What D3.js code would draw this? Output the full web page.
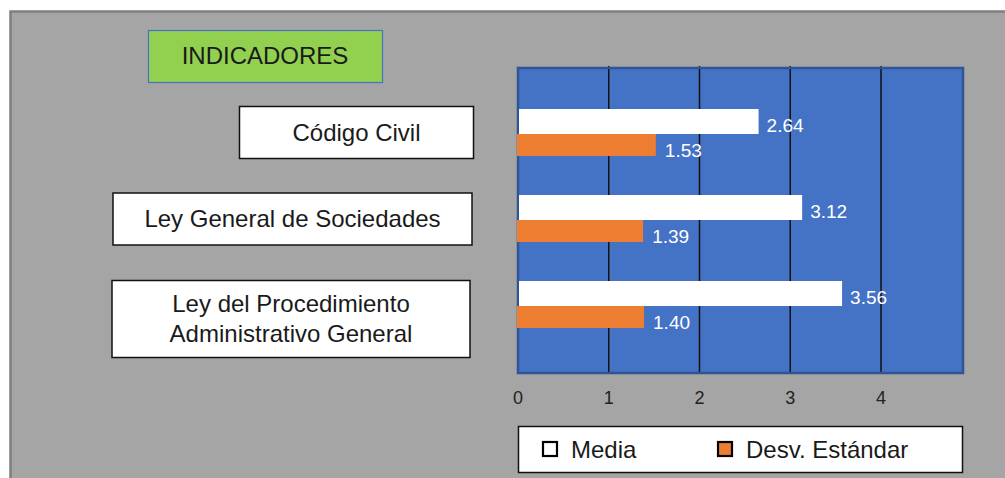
<!DOCTYPE html>
<html>
<head>
<meta charset="utf-8">
<script src="https://cdn.jsdelivr.net/npm/d3@7"></script>
<style>
  html, body { margin: 0; padding: 0; background: #fff; }
  svg { display: block; font-family: "Liberation Sans", Arial, sans-serif; }
</style>
</head>
<body>
<svg id="chart" width="1005" height="478"></svg>
<script>
var categories = ["Código Civil", "Ley General de Sociedades", "Ley del Procedimiento Administrativo General"];
var categoryLines = [["Código Civil"], ["Ley General de Sociedades"], ["Ley del Procedimiento", "Administrativo General"]];
var media = [2.64, 3.12, 3.56];
var desv = [1.53, 1.39, 1.40];
var series = ["Media", "Desv. Estándar"];
var xTicks = [0, 1, 2, 3, 4];
var title = "INDICADORES";

var COLORS = { media: "#ffffff", desv: "#ed7d31", plot: "#4472c4", frame: "#a5a5a5" };

var plot = { left: 518, right: 963, top: 68, bottom: 373 };

var svg = d3.select("#chart");

// gray frame
svg.append("rect")
  .attr("x", 10.5).attr("y", 11.5)
  .attr("width", 1010).attr("height", 480)
  .style("fill", COLORS.frame)
  .style("stroke", "#7f7f7f")
  .style("stroke-width", 2.5);

// gridline 4 sits at x=881 in the original
var x = d3.scaleLinear()
  .domain([0, (plot.right - plot.left) / ((881 - plot.left) / 4)])
  .range([plot.left, plot.right]);

var y = d3.scaleBand()
  .domain(categories)
  .range([91, 349]);

var ySub = d3.scaleBand()
  .domain(series)
  .range([0, y.bandwidth()])
  .paddingOuter(0.72);

// plot area
svg.append("rect")
  .attr("x", plot.left).attr("y", plot.top)
  .attr("width", plot.right - plot.left).attr("height", plot.bottom - plot.top)
  .style("fill", COLORS.plot);

svg.selectAll(".grid")
  .data(xTicks.filter(d => d > 0))
  .join("line")
  .attr("class", "grid")
  .attr("x1", d => x(d)).attr("x2", d => x(d))
  .attr("y1", plot.top - 2).attr("y2", plot.bottom)
  .style("stroke", "#111")
  .style("stroke-width", 1.5);

svg.append("rect")
  .attr("x", plot.left).attr("y", plot.top)
  .attr("width", plot.right - plot.left).attr("height", plot.bottom - plot.top)
  .style("fill", "none")
  .style("stroke", "#2f5597")
  .style("stroke-width", 2.5);

var rows = categories.map((c, i) => ({ cat: c, media: media[i], desv: desv[i] }));

var groups = svg.selectAll(".group")
  .data(rows)
  .join("g")
  .attr("class", "group")
  .attr("transform", d => "translate(0," + y(d.cat) + ")");

groups.append("rect")
  .attr("x", x(0) + 1)
  .attr("y", ySub("Media"))
  .attr("width", d => x(d.media) - x(0))
  .attr("height", ySub.bandwidth())
  .style("fill", COLORS.media);

groups.append("rect")
  .attr("x", x(0) - 1)
  .attr("y", ySub("Desv. Estándar"))
  .attr("width", d => x(d.desv) - x(0))
  .attr("height", ySub.bandwidth() - 3)
  .style("fill", COLORS.desv);

groups.append("text")
  .attr("x", d => x(d.media) + 9)
  .attr("y", ySub("Media") + ySub.bandwidth() / 2 + 4)
  .attr("dominant-baseline", "central")
  .style("fill", "#fff")
  .style("font-size", "19px")
  .text(d => d.media.toFixed(2));

groups.append("text")
  .attr("x", d => x(d.desv) + 8)
  .attr("y", ySub("Desv. Estándar") + ySub.bandwidth() / 2 + 4)
  .attr("dominant-baseline", "central")
  .style("fill", "#fff")
  .style("font-size", "19px")
  .text(d => d.desv.toFixed(2));

// x axis labels
svg.selectAll(".tick-label")
  .data(xTicks)
  .join("text")
  .attr("class", "tick-label")
  .attr("x", d => x(d))
  .attr("y", 404)
  .attr("text-anchor", "middle")
  .style("font-size", "18px")
  .style("fill", "#222")
  .text(d => d);

// title box
svg.append("rect")
  .attr("x", 148.5).attr("y", 30.5)
  .attr("width", 234).attr("height", 52)
  .style("fill", "#92d050")
  .style("stroke", "#4472c4")
  .style("stroke-width", 1.2);
svg.append("text")
  .attr("x", 265).attr("y", 55)
  .attr("text-anchor", "middle")
  .attr("dominant-baseline", "central")
  .style("font-size", "24px")
  .style("fill", "#1a1a1a")
  .text(title);

// category label boxes
var labelBoxes = [
  { x: 239.5, y: 106.5, w: 234, h: 52 },
  { x: 113, y: 193, w: 359, h: 52 },
  { x: 112, y: 280.5, w: 358, h: 77 }
];

categories.forEach(function(c, i) {
  var b = labelBoxes[i];
  svg.append("rect")
    .attr("x", b.x).attr("y", b.y)
    .attr("width", b.w).attr("height", b.h)
    .style("fill", "#fff")
    .style("stroke", "#111")
    .style("stroke-width", 1.5);
  var lines = categoryLines[i];
  var lh = 30;
  var t = svg.append("text")
    .attr("text-anchor", "middle")
    .style("font-size", "24px")
    .style("fill", "#1a1a1a");
  lines.forEach(function(l, j) {
    t.append("tspan")
      .attr("x", b.x + b.w / 2)
      .attr("y", b.y + b.h / 2 + (j - (lines.length - 1) / 2) * lh + 8)
      .text(l);
  });
});

// legend
var legend = svg.append("g");
legend.append("rect")
  .attr("x", 518.5).attr("y", 426.5)
  .attr("width", 444).attr("height", 46)
  .style("fill", "#fff")
  .style("stroke", "#111")
  .style("stroke-width", 1.5);

var legendItems = [
  { label: series[0], color: COLORS.media, x: 543 },
  { label: series[1], color: COLORS.desv, x: 718 }
];
legendItems.forEach(function(d) {
  legend.append("rect")
    .attr("x", d.x).attr("y", 442)
    .attr("width", 14).attr("height", 14)
    .style("fill", d.color)
    .style("stroke", "#000")
    .style("stroke-width", 2.2);
  legend.append("text")
    .attr("x", d.x + 28).attr("y", 458)
    .style("font-size", "24px")
    .style("fill", "#1a1a1a")
    .text(d.label);
});
</script>
</body>
</html>
